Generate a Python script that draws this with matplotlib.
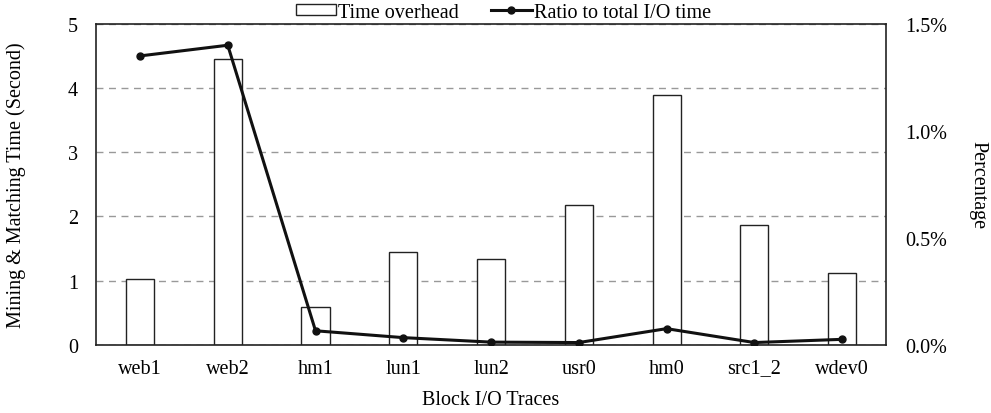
import numpy as np
import matplotlib.pyplot as plt
from matplotlib.ticker import FuncFormatter

plt.rcParams['font.family'] = ['Liberation Serif', 'DejaVu Serif']

traces = ['web1', 'web2', 'hm1', 'lun1', 'lun2', 'usr0', 'hm0', 'src1_2', 'wdev0']
time_overhead = [1.03, 4.45, 0.59, 1.45, 1.34, 2.17, 3.89, 1.87, 1.12]
ratio_pct = [1.35, 1.40, 0.065, 0.033, 0.012, 0.01, 0.075, 0.01, 0.025]

fs = 14.5

fig, ax = plt.subplots(figsize=(9.91, 4.14), dpi=100)
fig.subplots_adjust(left=0.097, right=0.894, top=0.94, bottom=0.165)

x = np.arange(len(traces))
ax.set_axisbelow(True)
ax.yaxis.grid(True, linestyle=(0, (5, 4)), color='#999999', linewidth=1.0)
bars = ax.bar(x, time_overhead, width=0.32, facecolor='white', edgecolor='#222222',
              linewidth=1.0, label='Time overhead', zorder=2)
ax.set_ylim(0, 5)
ax.set_xlim(-0.5, len(traces) - 0.5)
ax.set_yticks(range(0, 6))
ax.set_xticks(x)
ax.set_xticklabels(traces)
ax.tick_params(length=0, labelsize=fs, pad=10)
ax.tick_params(axis='y', pad=13)
ax.set_xlabel('Block I/O Traces', fontsize=fs, labelpad=9)
ax.set_ylabel('Mining & Matching Time (Second)', fontsize=fs, labelpad=30)
for s in ax.spines.values():
    s.set_color('#222222')
    s.set_linewidth(1.2)

ax2 = ax.twinx()
line, = ax2.plot(x, ratio_pct, color='#111111', linewidth=2.2, marker='o',
                 markersize=5, label='Ratio to total I/O time', zorder=3)
ax2.set_ylim(0, 1.5)
ax2.set_yticks([0, 0.5, 1.0, 1.5])
ax2.yaxis.set_major_formatter(FuncFormatter(lambda v, p: f'{v:.1f}%'))
ax2.tick_params(length=0, labelsize=fs, pad=14)
ax2.set_ylabel('Percentage', fontsize=fs, rotation=270, labelpad=29)
for s in ax2.spines.values():
    s.set_visible(False)

fig.legend([bars, line], ['Time overhead', 'Ratio to total I/O time'],
           loc='center', bbox_to_anchor=(0.508, 0.968), ncol=2, frameon=False,
           fontsize=fs, handlelength=2.0, handleheight=0.5, handletextpad=0.1,
           columnspacing=1.6, borderpad=0, borderaxespad=0)

fig.savefig('out.png', dpi=100)
